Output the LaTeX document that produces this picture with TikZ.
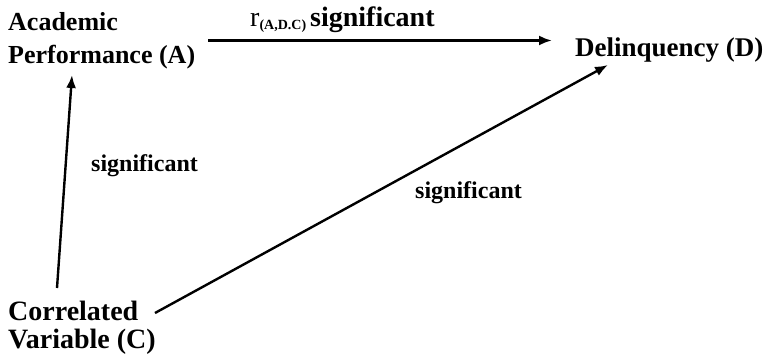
\documentclass[tikz,border=0pt]{standalone}
\usepackage{fontspec}
\setmainfont{Liberation Serif}
\usetikzlibrary{arrows.meta}
\tikzset{
  var/.style={inner sep=0pt, align=left, anchor=north west},
  lbl/.style={inner sep=0pt, anchor=base west, font=\bfseries\fontsize{24}{28}\selectfont},
  arr/.style={line width=2.4pt, -{Latex[length=13pt,width=10pt]}}
}
\begin{document}
\begin{tikzpicture}[x=1pt,y=-1pt]
  \useasboundingbox (0,0) rectangle (766,359);
  \node[var, font=\bfseries\fontsize{26}{33}\selectfont] (A) at (8,12) {Academic\\Performance (A)};
  \node[var, font=\bfseries\fontsize{27}{32}\selectfont] (D) at (575,38) {Delinquency (D)};
  \node[var, font=\bfseries\fontsize{28}{28}\selectfont] (C) at (8,301) {Correlated\\Variable (C)};
  % labels
  \node[lbl, font=\bfseries\fontsize{28}{30}\selectfont] (rAD) at (250,26)
    {{\mdseries r}\raisebox{-3pt}{\fontsize{14}{16}\selectfont(A,D.C)}\hspace{4pt}significant};
  \node[lbl] (sigCA) at (91,171) {significant};
  \node[lbl] (sigCD) at (415,198) {significant};
  % arrows
  \draw[arr, shorten <=13pt, shorten >=23pt] (A.east) -- (A.east -| D.west);
  \draw[arr] ([shift={(49,-13)}]C.north west) -- ([shift={(64,6)}]A.south west);
  \draw[arr] ([shift={(147,12)}]C.north west) -- ([shift={(33,2)}]D.south west);
\end{tikzpicture}
\end{document}
